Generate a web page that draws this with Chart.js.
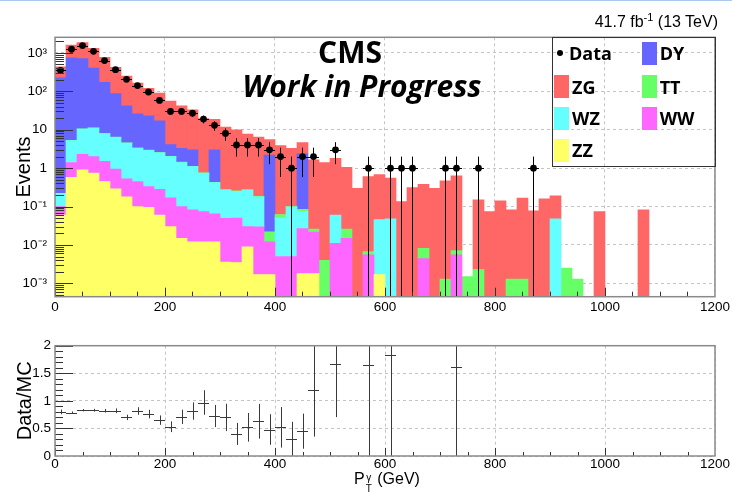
<!DOCTYPE html>
<html>
<head>
<meta charset="utf-8">
<title>Photon pT</title>
<script src="https://cdn.jsdelivr.net/npm/chart.js@4.4.1/dist/chart.umd.min.js"></script>
<style>
  html, body { margin: 0; padding: 0; background: #fff; }
  body { width: 732px; height: 499px; position: relative; overflow: hidden; font-family: "Liberation Sans", Arial, sans-serif; }
  #topline { position: absolute; left: 0; top: 0; width: 732px; height: 1px; background: #a9c9ef; }
  canvas { position: absolute; left: 0; }
  #mainChart { top: 0; }
  #ratioChart { top: 320px; }
  .label { position: absolute; white-space: nowrap; color: #000; }
  #cms { font: 700 30px/30px "Open Sans", sans-serif; left: 350px; top: 36.5px; transform: translateX(-50%); }
  #wip { font: italic 700 30px/30px "Open Sans", sans-serif; left: 362px; top: 70.8px; transform: translateX(-50%); }
  #lumi { font: 16px/16px "Liberation Sans", sans-serif; right: 14px; top: 13.5px; }
  #lumi sup { font-size: 11px; vertical-align: 6px; line-height: 0; }
  #xtitle { font: 16px/16px "Liberation Sans", sans-serif; left: 354px; top: 471px; }
  .supsub { display: inline-block; vertical-align: -8px; font-size: 10px; line-height: 11px; margin: 0 1px 0 1px; text-align: center; }
  .supsub span { display: block; }
  #legend { position: absolute; left: 552px; top: 37px; width: 164px; height: 130px; border: 1px solid #333; box-sizing: border-box; }
  .item { position: absolute; height: 24px; display: flex; align-items: center; font: 700 18px "Open Sans", sans-serif; }
  .swatch { width: 15px; height: 23px; margin-right: 3px; }
  .dot { width: 6px; height: 6px; border-radius: 50%; background: #000; margin: 0 6px 0 3px; }
</style>
</head>
<body>
<div id="topline"></div>
<canvas id="mainChart" width="732" height="320"></canvas>
<canvas id="ratioChart" width="732" height="179"></canvas>
<div id="lumi" class="label">41.7 fb<sup>-1</sup> (13 TeV)</div>
<div id="cms" class="label">CMS</div>
<div id="wip" class="label">Work in Progress</div>
<div id="legend"></div>
<div id="xtitle" class="label">P<span class="supsub"><span>γ</span><span>T</span></span> (GeV)</div>

<script>
// photon pT bins, 20 GeV wide
const binCenters = [10, 30, 50, 70, 90, 110, 130, 150, 170, 190,
  210, 230, 250, 270, 290, 310, 330, 350, 370, 390,
  410, 430, 450, 470, 490, 510, 530, 550, 570, 590,
  610, 630, 650, 670, 690, 710, 730, 750, 770, 790,
  810, 830, 850, 870, 890, 910, 930, 950, 970, 990,
  1010, 1030, 1050, 1070, 1090, 1110, 1130, 1150, 1170, 1190];
const binWidth = 20;

// MC processes, stacked bottom to top
const zzValues = [0.06, 0.58, 0.9, 0.74, 0.45, 0.29, 0.18, 0.10, 0.096, 0.06,
  0.03, 0.015, 0.012, 0.012, 0.012, 0.0036, 0.0035, 0.009, 0.0017, 0.0017,
  0, 0, 0.0018, 0.0018, 0, 0, 0, 0, 0, 0.0017,
  0, 0, 0, 0, 0, 0, 0, 0, 0, 0,
  0, 0, 0, 0, 0, 0, 0, 0, 0, 0,
  0, 0, 0, 0, 0, 0, 0, 0, 0, 0];
const wwValues = [0.04, 0.82, 1.4, 1.26, 1.05, 0.65, 0.35, 0.35, 0.234, 0.22,
  0.14, 0.085, 0.07, 0.062, 0.053, 0.046, 0.0465, 0.021, 0.028, 0.0103,
  0.005, 0.005, 0.025, 0.02, 0, 0.011, 0.015, 0, 0.0055, 0,
  0, 0, 0, 0.0044, 0, 0, 0.0055, 0, 0, 0,
  0, 0, 0, 0, 0, 0, 0, 0, 0, 0,
  0, 0, 0, 0, 0, 0, 0, 0, 0, 0];
const wzValues = [0.12, 3.8, 8.1, 9.0, 6.4, 5.36, 3.97, 2.85, 2.57, 2.22,
  1.83, 1.3, 1.02, 0.666, 0.355, 0.22, 0.2, 0.24, 0.15, 0,
  0.045, 0.093, 0.047, 0, 0, 0.049, 0, 0, 0, 0.044,
  0.048, 0, 0, 0, 0, 0, 0, 0, 0, 0,
  0, 0, 0, 0, 0, 0.048, 0, 0, 0, 0,
  0, 0, 0, 0, 0, 0, 0, 0, 0, 0];
const ttValues = [0, 0.1, 0.2, 0.2, 0.1, 0.1, 0.08, 0.06, 0.05, 0.05,
  0.04, 0.04, 0.02, 0.02, 0.01, 0.008, 0.006, 0.006, 0.005, 0.01,
  0.012, 0.002, 0.011, 0.004, 0.004, 0, 0.011, 0, 0.0012, 0,
  0, 0, 0, 0.0038, 0, 0.0013, 0.0016, 0.0015, 0.0023, 0,
  0, 0.0013, 0.0013, 0, 0, 0, 0.0025, 0.0013, 0, 0,
  0, 0, 0, 0, 0, 0, 0, 0, 0, 0];
const dyValues = [224, 735, 700, 394, 163, 80.6, 37.4, 22.6, 20, 14.4,
  2.05, 1.85, 1.88, 0, 2.57, 0, 0, 0, 0, 2.18,
  0, 0, 2.32, 0, 0, 0, 0, 0, 0, 0,
  0, 0, 0, 0, 0, 0, 0, 0, 0, 0,
  0, 0, 0, 0, 0, 0, 0, 0, 0, 0,
  0, 0, 0, 0, 0, 0, 0, 0, 0, 0];
const zgValues = [210, 850, 1160, 920, 599, 333, 208, 139, 97, 73,
  51.9, 38.7, 30, 18.8, 15.6, 11.4, 9.74, 7.4, 6.3, 3.3,
  3.79, 3.2, 2.2, 1.62, 1.4, 1.74, 1.03, 0.3, 0.593, 0.634,
  0.5, 0.135, 0.31, 0.372, 0.3, 0.469, 0.623, 0, 0.148, 0.074,
  0.14, 0.081, 0.164, 0.077, 0.16, 0.142, 0, 0, 0, 0.074,
  0, 0, 0, 0.082, 0, 0, 0, 0, 0, 0];

const dataCounts = [353, 1247, 1551, 1100, 631, 367, 205, 141, 96, 58,
  30, 30, 27, 19, 13, 8, 4, 4, 4, 3,
  2, 1, 2, 2, 0, 3, 0, 0, 1, 0,
  1, 1, 1, 0, 0, 1, 1, 0, 1, 0,
  0, 0, 0, 1, 0, 0, 0, 0, 0, 0,
  0, 0, 0, 0, 0, 0, 0, 0, 0, 0];

// Data/MC as drawn (null = no data or off scale)
const ratioValues = [0.80, 0.785, 0.83, 0.83, 0.82, 0.82, 0.70, 0.815, 0.76, 0.65,
  0.53, 0.71, 0.815, 0.97, 0.725, 0.70, 0.40, 0.52, 0.63, 0.48,
  0.52, 0.31, 0.45, 1.2, null, 1.67, null, null, 1.65, null,
  1.83, null, null, null, null, null, 1.61, null, null, null,
  null, null, null, null, null, null, null, null, null, null,
  null, null, null, null, null, null, null, null, null, null];

const processNames = ['ZZ', 'WW', 'WZ', 'TT', 'DY', 'ZG'];
const processColors = ['#ffff66', '#ff66ff', '#66ffff', '#66ff66', '#6666ff', '#ff6666'];
const processValues = [zzValues, wwValues, wzValues, ttValues, dyValues, zgValues];

const xTickValues = [0, 200, 400, 600, 800, 1000, 1200];
const xTickLabels = ['0', '200', '400', '600', '800', '1000', '1200'];
const logTickValues = [0.001, 0.01, 0.1, 1, 10, 100, 1000];
const logTickLabels = ['10⁻³', '10⁻²', '10⁻¹', '1', '10', '10²', '10³'];
const ratioTickValues = [0, 0.5, 1, 1.5, 2];
const ratioTickLabels = ['0', '0.5', '1', '1.5', '2'];

const legendRows = [['Data', 'DY'], ['ZG', 'TT'], ['WZ', 'WW'], ['ZZ']];

Chart.defaults.font.family = "'Liberation Sans', Arial, sans-serif";
Chart.defaults.color = '#000';
Chart.defaults.animation = false;

// minor tick positions
const xMinor = [];
for (let v = 50; v < 1200; v += 50) xMinor.push(v);
const logMinor = [];
for (let d = -4; d <= 3; d++) for (let m = 2; m <= 9; m++) logMinor.push(m * Math.pow(10, d));
const ratioMinor = [];
for (let v = 0.1; v < 2; v += 0.1) ratioMinor.push(v);

// frame + inside tick marks, ROOT style
const rootFrame = {
  id: 'rootFrame',
  afterDraw(chart, args, o) {
    const { ctx, chartArea: a } = chart;
    const x = chart.scales.x, y = chart.scales.y;
    ctx.save();
    ctx.beginPath();
    ctx.rect(a.left, a.top, a.right - a.left, a.bottom - a.top);
    ctx.clip();
    ctx.strokeStyle = '#333';
    ctx.lineWidth = 1;
    ctx.beginPath();
    const xt = (v, len) => {
      const px = Math.round(x.getPixelForValue(v)) + 0.5;
      ctx.moveTo(px, a.bottom); ctx.lineTo(px, a.bottom - len);
    };
    const yt = (v, len) => {
      const py = Math.round(y.getPixelForValue(v)) + 0.5;
      ctx.moveTo(a.left, py); ctx.lineTo(a.left + len, py);
    };
    xMinor.forEach(v => xt(v, o.xMinorLen));
    xTickValues.forEach(v => xt(v, o.xMajorLen));
    o.yMinor.forEach(v => yt(v, o.yMinorLen));
    o.yMajor.forEach(v => yt(v, o.yMajorLen));
    ctx.stroke();
    ctx.restore();
    ctx.save();
    ctx.strokeStyle = '#8a8a8a';
    ctx.lineWidth = 1.5;
    ctx.strokeRect(a.left, a.top, a.right - a.left, a.bottom - a.top);
    ctx.restore();
  }
};

// data error bars (sqrt N) on the main pad
const dataErrors = {
  id: 'dataErrors',
  afterDatasetsDraw(chart) {
    const { ctx, chartArea: a, scales: { x, y } } = chart;
    ctx.save();
    ctx.beginPath();
    ctx.rect(a.left, a.top, a.right - a.left, a.bottom - a.top);
    ctx.clip();
    ctx.strokeStyle = '#000';
    ctx.lineWidth = 1;
    ctx.beginPath();
    dataCounts.forEach((n, i) => {
      if (!n) return;
      const c = binCenters[i];
      const px = Math.round(x.getPixelForValue(c)) + 0.5;
      const py = Math.round(y.getPixelForValue(n)) + 0.5;
      ctx.moveTo(x.getPixelForValue(c - binWidth / 2), py);
      ctx.lineTo(x.getPixelForValue(c + binWidth / 2), py);
      const err = Math.sqrt(n);
      const lo = n - err > 0 ? y.getPixelForValue(n - err) : a.bottom;
      ctx.moveTo(px, lo);
      ctx.lineTo(px, y.getPixelForValue(n + err));
    });
    ctx.stroke();
    ctx.restore();
  }
};

// crosses on the ratio pad
const ratioCrosses = {
  id: 'ratioCrosses',
  afterDatasetsDraw(chart) {
    const { ctx, chartArea: a, scales: { x, y } } = chart;
    ctx.save();
    ctx.beginPath();
    ctx.rect(a.left, a.top, a.right - a.left, a.bottom - a.top);
    ctx.clip();
    ctx.strokeStyle = '#3a3a3a';
    ctx.lineWidth = 1;
    ctx.beginPath();
    ratioValues.forEach((r, i) => {
      if (r === null) return;
      const c = binCenters[i];
      const err = r / Math.sqrt(dataCounts[i]);
      const px = Math.round(x.getPixelForValue(c)) + 0.5;
      const py = Math.round(y.getPixelForValue(r)) + 0.5;
      ctx.moveTo(x.getPixelForValue(c - binWidth / 2), py);
      ctx.lineTo(x.getPixelForValue(c + binWidth / 2), py);
      ctx.moveTo(px, y.getPixelForValue(Math.max(r - err, 0)));
      ctx.lineTo(px, y.getPixelForValue(r + err));
    });
    ctx.stroke();
    ctx.restore();
  }
};

function pointsFor(values) {
  return binCenters.map((c, i) => ({ x: c, y: values[i] }));
}

const tickFont = { size: 13.5 };
const gridStyle = { color: '#c4c4c4', lineWidth: 1, drawTicks: false, offset: false };
const borderStyle = { display: false, dash: [3, 3] };

const dataPoints = [];
dataCounts.forEach((n, i) => { if (n > 0) dataPoints.push({ x: binCenters[i], y: n }); });

new Chart(document.getElementById('mainChart'), {
  type: 'bar',
  data: {
    datasets: [
      ...processNames.map((name, k) => ({
        label: name,
        data: pointsFor(processValues[k]),
        backgroundColor: processColors[k],
        borderWidth: 0,
        barPercentage: 1,
        categoryPercentage: 1,
        stack: 'mc',
        order: 2
      })),
      {
        type: 'scatter',
        label: 'Data',
        data: dataPoints,
        pointRadius: 3.4,
        pointBackgroundColor: '#000',
        pointBorderWidth: 0,
        order: 1
      }
    ]
  },
  options: {
    responsive: false,
    layout: { padding: { left: 0, right: 17, top: 37.3, bottom: 0 } },
    plugins: {
      legend: { display: false },
      tooltip: { enabled: false },
      rootFrame: { xMajorLen: 9, xMinorLen: 5, yMajor: logTickValues, yMinor: logMinor, yMajorLen: 18, yMinorLen: 9 }
    },
    scales: {
      x: {
        type: 'linear', min: 0, max: 1200, offset: false,
        afterBuildTicks: s => { s.ticks = xTickValues.map(v => ({ value: v })); },
        afterFit: s => { s.height = 23.3; },
        ticks: { font: tickFont, padding: 2, maxRotation: 0, autoSkip: false,
          callback: (v, i) => xTickLabels[i] },
        grid: gridStyle, border: borderStyle
      },
      y: {
        type: 'logarithmic', stacked: true, min: 4.5e-4, max: 2550,
        afterBuildTicks: s => { s.ticks = logTickValues.map(v => ({ value: v })); },
        afterFit: s => { s.width = 55; },
        ticks: { font: tickFont, padding: 8, autoSkip: false,
          callback: (v, i) => logTickLabels[i] },
        grid: gridStyle, border: borderStyle,
        title: { display: true, text: 'Events', font: { size: 20 }, padding: { top: 12, bottom: 0 } }
      }
    }
  },
  plugins: [dataErrors, rootFrame]
});

new Chart(document.getElementById('ratioChart'), {
  type: 'scatter',
  data: {
    datasets: [{
      label: 'Data/MC',
      data: binCenters.map((c, i) => ({ x: c, y: ratioValues[i] })),
      pointRadius: 0
    }]
  },
  options: {
    responsive: false,
    layout: { padding: { left: 0, right: 17, top: 25.7, bottom: 0 } },
    plugins: {
      legend: { display: false },
      tooltip: { enabled: false },
      rootFrame: { xMajorLen: 8, xMinorLen: 4, yMajor: ratioTickValues, yMinor: ratioMinor, yMajorLen: 18, yMinorLen: 8 }
    },
    scales: {
      x: {
        type: 'linear', min: 0, max: 1200,
        afterBuildTicks: s => { s.ticks = xTickValues.map(v => ({ value: v })); },
        afterFit: s => { s.height = 43; },
        ticks: { font: tickFont, padding: 0, maxRotation: 0, autoSkip: false,
          callback: (v, i) => xTickLabels[i] },
        grid: gridStyle, border: borderStyle
      },
      y: {
        type: 'linear', min: 0, max: 2,
        afterBuildTicks: s => { s.ticks = ratioTickValues.map(v => ({ value: v })); },
        afterFit: s => { s.width = 55; },
        ticks: { font: tickFont, padding: 4, autoSkip: false,
          callback: (v, i) => ratioTickLabels[i] },
        grid: gridStyle, border: borderStyle,
        title: { display: true, text: 'Data/MC', font: { size: 20 }, padding: { top: 13.5, bottom: 0 } }
      }
    }
  },
  plugins: [ratioCrosses, rootFrame]
});

// legend box, two columns like the ROOT TLegend
const legendBox = document.getElementById('legend');
const colLeft = [1, 88.7];
const rowCenter = [15.3, 48.7, 80.3, 112];
legendRows.forEach((row, r) => {
  row.forEach((name, c) => {
    const item = document.createElement('div');
    item.className = 'item';
    item.style.left = colLeft[c] + 'px';
    item.style.top = (rowCenter[r] - 12) + 'px';
    const mark = document.createElement('div');
    if (name === 'Data') {
      mark.className = 'dot';
    } else {
      mark.className = 'swatch';
      mark.style.background = processColors[processNames.indexOf(name)];
    }
    item.appendChild(mark);
    item.appendChild(document.createTextNode(name));
    legendBox.appendChild(item);
  });
});
</script>
</body>
</html>
